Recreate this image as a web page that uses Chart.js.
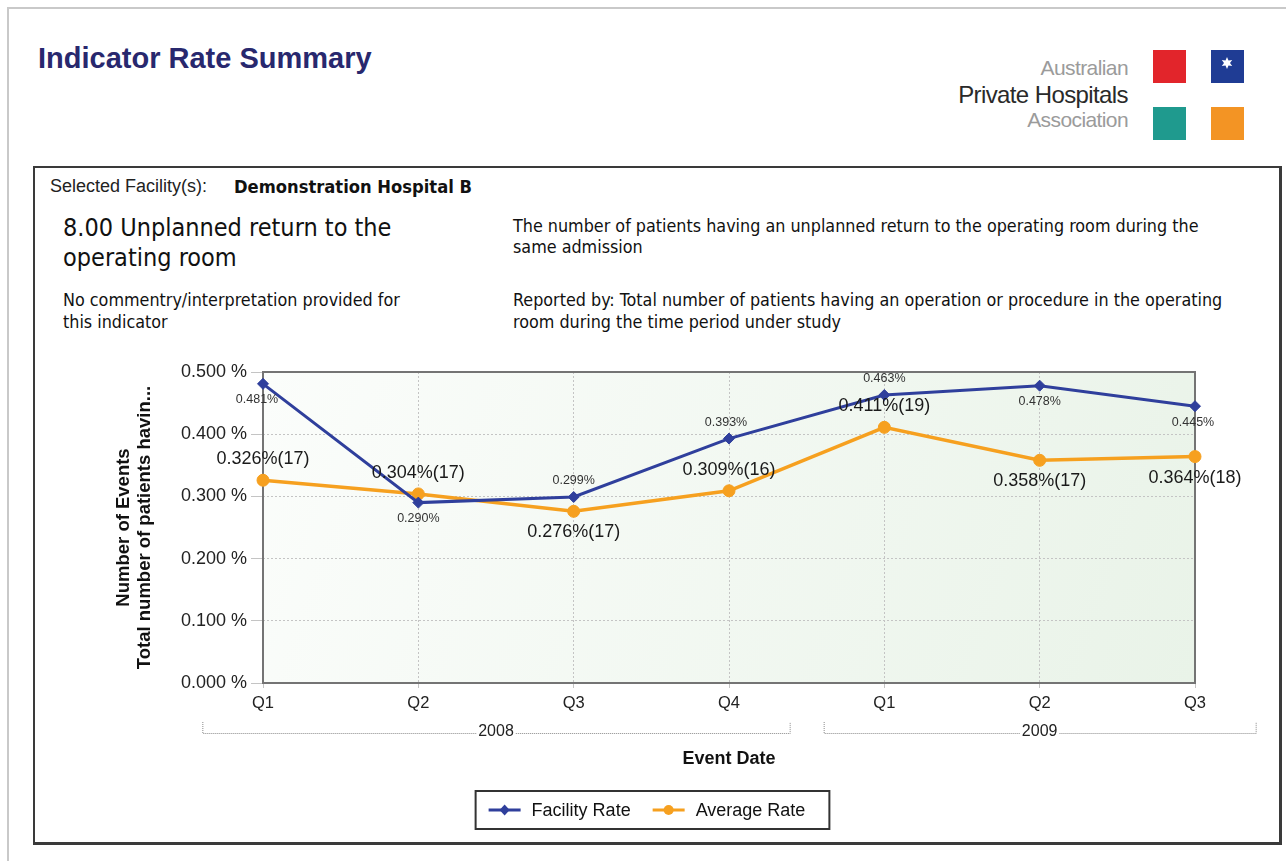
<!DOCTYPE html>
<html><head><meta charset="utf-8">
<script src="https://cdn.jsdelivr.net/npm/chart.js@4.4.1/dist/chart.umd.min.js"></script>
<style>
html,body{margin:0;padding:0;background:#fff;width:1286px;height:861px;overflow:hidden;}
#page{position:absolute;left:7px;top:7px;width:1300px;height:880px;border-top:2px solid #c9c9c9;border-left:2px solid #c9c9c9;}
#title{position:absolute;left:38px;top:42px;font:bold 29px "Liberation Sans",Arial,sans-serif;color:#28286e;white-space:nowrap;}
.logo{position:absolute;right:158px;font-family:"Liberation Sans",Arial,sans-serif;letter-spacing:-0.6px;white-space:nowrap;text-align:right;}
#box{position:absolute;left:33px;top:166px;width:1244px;height:674px;border:2px solid #3a3a3a;border-right-width:3px;border-bottom-width:3px;}
.t{position:absolute;white-space:nowrap;font-family:"DejaVu Sans Condensed","DejaVu Sans",sans-serif;color:#111;}
#chartWrap{position:absolute;left:35px;top:345px;width:1243px;height:495px;}
</style></head>
<body>
<div id="page"></div>
<div id="title">Indicator Rate Summary</div>
<div class="logo" style="top:56px;font-size:21px;color:#9b9b9b;">Australian</div>
<div class="logo" style="top:81px;font-size:24px;color:#2a2a2a;">Private Hospitals</div>
<div class="logo" style="top:108px;font-size:21px;color:#9b9b9b;">Association</div>
<svg style="position:absolute;left:1150px;top:47px" width="100" height="96">
  <rect x="3" y="3" width="33" height="33" fill="#e2252b"/>
  <rect x="61" y="3" width="33" height="33" fill="#1f3c94"/>
  <rect x="3" y="60" width="33" height="33" fill="#1f9a8e"/>
  <rect x="61" y="60" width="33" height="33" fill="#f39424"/>
  <g transform="translate(77,16)" fill="#fff">
    <polygon points="0,-6 1.5,-2.6 5.2,-3 3,0 5.2,3 1.5,2.6 0,6 -1.5,2.6 -5.2,3 -3,0 -5.2,-3 -1.5,-2.6"/>
  </g>
</svg>
<div id="box"></div>
<div class="t" style="left:50px;top:176px;font:18px 'Liberation Sans',Arial,sans-serif;color:#222;">Selected Facility(s):</div>
<div class="t" style="left:234px;top:176px;font-size:18.2px;font-weight:bold;">Demonstration Hospital B</div>
<div class="t" style="left:63px;top:213px;font-size:25px;line-height:30px;">8.00 Unplanned return to the<br>operating room</div>
<div class="t" style="left:63px;top:289px;font-size:17.8px;line-height:22px;">No commentry/interpretation provided for<br>this indicator</div>
<div class="t" style="left:513px;top:215px;font-size:17.8px;line-height:21px;">The number of patients having an unplanned return to the operating room during the<br>same admission</div>
<div class="t" style="left:513px;top:289px;font-size:17.8px;line-height:22px;">Reported by: Total number of patients having an operation or procedure in the operating<br>room during the time period under study</div>
<div id="chartWrap"><canvas id="c" width="1243" height="495"></canvas></div>
<script>
const quarters = ['Q1','Q2','Q3','Q4','Q1','Q2','Q3'];
const years = ['2008','2008','2008','2008','2009','2009','2009'];
const facilityRate = [0.481, 0.290, 0.299, 0.393, 0.463, 0.478, 0.445];
const averageRate = [0.326, 0.304, 0.276, 0.309, 0.411, 0.358, 0.364];
const averageCount = [17, 17, 17, 16, 19, 17, 18];
const yTicks = [0, 0.1, 0.2, 0.3, 0.4, 0.5];

const BLUE = '#2f3f9c', ORANGE = '#f6a01f';
const SANS = '"Liberation Sans", Arial, sans-serif';

const bgPlugin = {
  id: 'bg',
  beforeDraw(chart) {
    const {ctx, chartArea: a} = chart;
    const g = ctx.createLinearGradient(a.left, a.top, a.right, a.bottom);
    g.addColorStop(0, '#fbfdfb');
    g.addColorStop(1, '#e9f3e8');
    ctx.save(); ctx.fillStyle = g;
    ctx.fillRect(a.left, a.top, a.right - a.left, a.bottom - a.top);
    ctx.restore();
  },
  beforeDatasetsDraw(chart) {
    const {ctx, chartArea: a} = chart;
    ctx.save(); ctx.strokeStyle = '#747474'; ctx.lineWidth = 2;
    ctx.strokeRect(a.left, a.top, a.right - a.left, a.bottom - a.top);
    ctx.restore();
  }
};

const labelPlugin = {
  id: 'pointLabels',
  afterDatasetsDraw(chart, args, opts) {
    const {ctx} = chart;
    chart.data.datasets.forEach((ds, di) => {
      const cfg = opts.sets[di];
      const meta = chart.getDatasetMeta(di);
      ctx.save();
      ctx.font = cfg.font; ctx.fillStyle = cfg.color;
      ctx.textAlign = 'center'; ctx.textBaseline = 'middle';
      meta.data.forEach((pt, i) => {
        const txt = cfg.format(ds.data[i], i);
        const dy = cfg.place[i] === 'above' ? -cfg.dist : cfg.dist;
        ctx.fillText(txt, pt.x + (cfg.dx ? cfg.dx[i] : 0), pt.y + dy);
      });
      ctx.restore();
    });
  }
};

const extrasPlugin = {
  id: 'extras',
  afterDraw(chart) {
    const {ctx, chartArea: a, scales: {x}} = chart;
    const step = x.getPixelForValue(1) - x.getPixelForValue(0);
    const groups = [];
    years.forEach((y, i) => {
      if (!groups.length || groups[groups.length - 1].label !== y) groups.push({label: y, start: i, end: i});
      else groups[groups.length - 1].end = i;
    });
    const by = a.bottom + 50;
    ctx.save();
    ctx.font = '16px ' + SANS; ctx.textAlign = 'center'; ctx.textBaseline = 'middle';
    groups.forEach(g => {
      const l = x.getPixelForValue(g.start) - step / 2 + 17;
      const r = x.getPixelForValue(g.end) + step / 2 - 17;
      const c = (x.getPixelForValue(g.start) + x.getPixelForValue(g.end)) / 2;
      const tw = ctx.measureText(g.label).width + 4;
      ctx.strokeStyle = '#8a8a8a'; ctx.lineWidth = 1; ctx.setLineDash([1, 1]);
      ctx.beginPath();
      ctx.moveTo(l + 0.5, by - 11); ctx.lineTo(l + 0.5, by + 0.5); ctx.lineTo(c - tw / 2, by + 0.5);
      ctx.moveTo(c + tw / 2, by + 0.5); ctx.lineTo(r + 0.5, by + 0.5); ctx.lineTo(r + 0.5, by - 11);
      ctx.stroke();
      ctx.setLineDash([]);
      ctx.fillStyle = '#222';
      ctx.fillText(g.label, c, by - 1);
    });
    ctx.font = 'bold 18px ' + SANS; ctx.fillStyle = '#111';
    ctx.fillText('Event Date', (a.left + a.right) / 2, a.bottom + 76);
    ctx.save();
    ctx.translate(a.left - 129, (a.top + a.bottom) / 2);
    ctx.rotate(-Math.PI / 2);
    ctx.font = 'bold 18.5px ' + SANS;
    ctx.fillText('Number of Events', 0, -10.5);
    ctx.fillText('Total number of patients havin...', 0, 10.5);
    ctx.restore();
    // legend
    const items = chart.data.datasets.map(d => ({label: d.label, color: d.borderColor, style: d.pointStyle}));
    ctx.font = '18px ' + SANS;
    const seg = 32, gap1 = 11, gap2 = 22, padL = 13, padR = 24;
    let total = padL + padR;
    items.forEach((it, i) => { total += seg + gap1 + ctx.measureText(it.label).width + (i ? 0 : gap2); });
    const cx = chart.width / 2 - 4;
    const bx = cx - total / 2, bt = a.bottom + 108, bh = 38;
    ctx.strokeStyle = '#333'; ctx.lineWidth = 2;
    ctx.strokeRect(bx, bt, total, bh);
    let px = bx + padL; const ly = bt + bh / 2;
    items.forEach((it) => {
      ctx.strokeStyle = it.color; ctx.lineWidth = 3;
      ctx.beginPath(); ctx.moveTo(px, ly); ctx.lineTo(px + seg, ly); ctx.stroke();
      ctx.fillStyle = it.color; ctx.beginPath();
      const m = px + seg / 2;
      if (it.style === 'circle') { ctx.arc(m, ly, 5, 0, Math.PI * 2); }
      else { ctx.moveTo(m, ly - 5.5); ctx.lineTo(m + 5, ly); ctx.lineTo(m, ly + 5.5); ctx.lineTo(m - 5, ly); ctx.closePath(); }
      ctx.fill();
      px += seg + gap1;
      ctx.fillStyle = '#111'; ctx.textAlign = 'left';
      ctx.fillText(it.label, px, ly + 1);
      px += ctx.measureText(it.label).width + gap2;
    });
    ctx.restore();
  }
};

new Chart(document.getElementById('c'), {
  type: 'line',
  data: {
    labels: quarters,
    datasets: [
      {label: 'Facility Rate', data: facilityRate, borderColor: BLUE, backgroundColor: BLUE,
       borderWidth: 3, pointStyle: 'rectRot', pointRadius: 5.5, pointBorderWidth: 1, tension: 0},
      {label: 'Average Rate', data: averageRate, borderColor: ORANGE, backgroundColor: ORANGE,
       borderWidth: 3.5, pointStyle: 'circle', pointRadius: 6, pointBorderWidth: 1, tension: 0}
    ]
  },
  options: {
    responsive: false, animation: false, devicePixelRatio: 1,
    layout: {padding: {top: 27, right: 83, left: 0, bottom: 0}},
    plugins: {
      legend: {display: false}, tooltip: {enabled: false},
      pointLabels: {
        sets: [
          {font: '12.5px ' + SANS, color: '#333', dist: 16,
           place: ['below','below','above','above','above','below','below'],
           dx: [-6, 0, 0, -3, 0, 0, -2],
           format: v => v.toFixed(3) + '%'},
          {font: '18px ' + SANS, color: '#1a1a1a', dist: 21,
           place: ['above','above','below','above','above','below','below'],
           format: (v, i) => v.toFixed(3) + '%(' + averageCount[i] + ')'}
        ]
      }
    },
    scales: {
      x: {
        offset: false,
        grid: {color: '#c4c4c4', lineWidth: 1, tickLength: 5, drawOnChartArea: true},
        border: {display: false, dash: [2, 2]},
        ticks: {font: {size: 16.5, family: SANS}, color: '#222', padding: 6, maxRotation: 0, autoSkip: false},
        afterFit(s) { s.height = 157; }
      },
      y: {
        min: 0, max: 0.5,
        afterBuildTicks(s) { s.ticks = yTicks.map(v => ({value: v})); },
        grid: {color: '#c4c4c4', lineWidth: 1, tickLength: 12},
        border: {display: false, dash: [2, 2]},
        ticks: {font: {size: 18, family: SANS}, color: '#222', padding: 4,
                callback: v => v.toFixed(3) + ' %'},
        afterFit(s) { s.width = 228; }
      }
    }
  },
  plugins: [bgPlugin, labelPlugin, extrasPlugin]
});
</script>
</body></html>
